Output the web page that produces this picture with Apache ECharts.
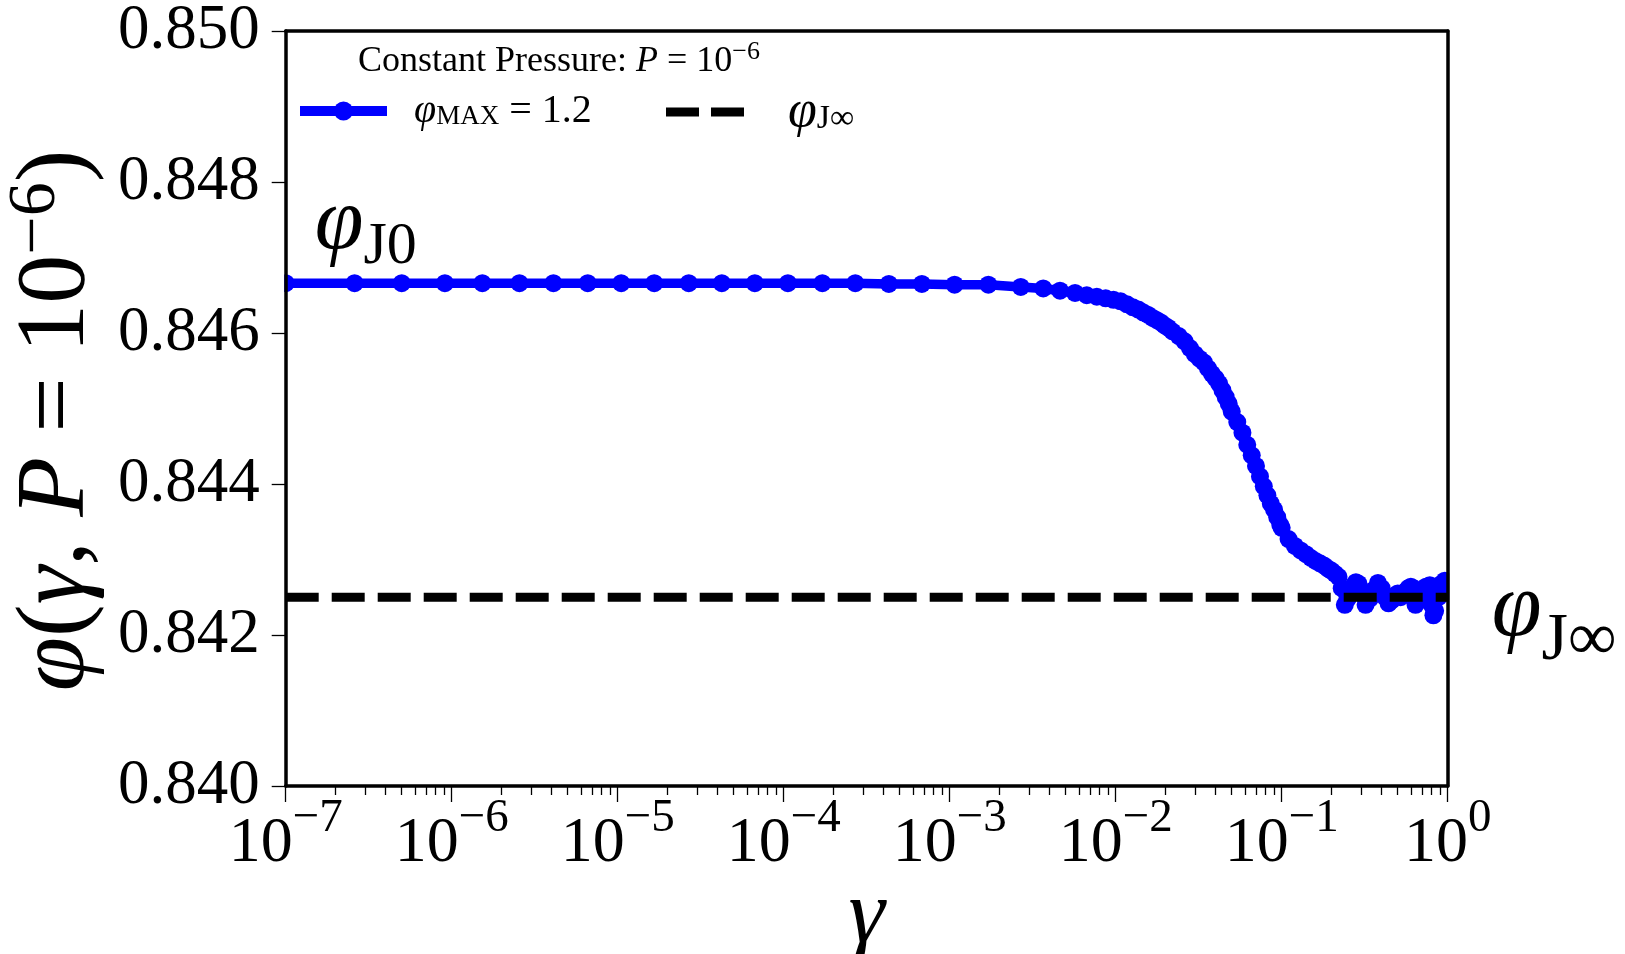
<!DOCTYPE html>
<html>
<head>
<meta charset="utf-8">
<script src="https://cdn.jsdelivr.net/npm/echarts@6/dist/echarts.min.js"></script>
<style>
  html, body { margin: 0; padding: 0; background: #fff; }
  #chart { width: 1625px; height: 954px; }
</style>
</head>
<body>
<div id="chart"></div>
<script>
// Packing fraction versus shear strain rate at constant pressure P = 1e-6
const gamma = [
  1.0e-7, 2.6e-7, 5.0e-7, 9.1e-7, 1.53e-6, 2.56e-6, 4.1e-6, 6.6e-6, 1.05e-5, 1.66e-5,
  2.68e-5, 4.24e-5, 6.7e-5, 1.06e-4, 1.71e-4, 2.70e-4, 4.3e-4, 6.8e-4, 1.07e-3, 1.71e-3,
  2.68e-3, 3.66e-3, 4.62e-3, 5.69e-3, 6.69e-3, 7.7e-3, 8.7e-3, 9.7e-3,
  0.0107, 0.0117, 0.0127, 0.0137, 0.0147, 0.0157, 0.0167, 0.0177, 0.0187, 0.0197, 0.0207,
  0.022, 0.024, 0.026, 0.028, 0.030, 0.032, 0.034, 0.036, 0.038, 0.040, 0.042, 0.044,
  0.046, 0.048, 0.050, 0.054, 0.058, 0.062, 0.066, 0.070, 0.074, 0.078, 0.082, 0.086,
  0.090, 0.094, 0.098, 0.10, 0.11, 0.12, 0.13, 0.14, 0.15, 0.16, 0.17, 0.18, 0.19, 0.20,
  0.21, 0.22, 0.23, 0.24, 0.25, 0.26, 0.27, 0.28, 0.29, 0.30, 0.32, 0.34, 0.36, 0.38,
  0.40, 0.42, 0.44, 0.46, 0.48, 0.50, 0.52, 0.54, 0.56, 0.58, 0.60, 0.62, 0.64, 0.66,
  0.70, 0.74, 0.78, 0.80, 0.82, 0.84, 0.88, 0.92, 0.96, 1.00
];
const phi = [
  0.84666, 0.84666, 0.84666, 0.84666, 0.84666, 0.84666, 0.84666, 0.84666, 0.84666, 0.84666,
  0.84666, 0.84666, 0.84666, 0.84666, 0.84666, 0.84666, 0.84665, 0.84665, 0.84664, 0.84664,
  0.84661, 0.84659, 0.84656, 0.84653, 0.84650, 0.84648, 0.84646, 0.84644,
  0.84642, 0.84638, 0.84634, 0.84631, 0.84627, 0.84624, 0.84620, 0.84617, 0.84614, 0.84610, 0.84607,
  0.84602, 0.84596, 0.84589, 0.84580, 0.84572, 0.84566, 0.84561, 0.84553, 0.84546, 0.84540, 0.84533, 0.84524,
  0.84515, 0.84506, 0.84496, 0.84482, 0.84468, 0.84452, 0.84438, 0.84424, 0.84410, 0.84397, 0.84385, 0.84374,
  0.84366, 0.84356, 0.84346, 0.84342, 0.84327, 0.84318, 0.84312, 0.84307, 0.84302, 0.84298, 0.84295, 0.84292, 0.84288, 0.84285,
  0.84281, 0.84277, 0.84262, 0.84240, 0.84248, 0.84258, 0.84265, 0.84270, 0.84268, 0.84255, 0.84240, 0.84248, 0.84260, 0.84269,
  0.84262, 0.84250, 0.84242, 0.84246, 0.84252, 0.84255, 0.84250, 0.84254, 0.84258, 0.84262, 0.84264, 0.84262, 0.84240, 0.84245,
  0.84255, 0.84264, 0.84266, 0.84240, 0.84226, 0.84232, 0.84250, 0.84268, 0.84272, 0.84258
];
// Jamming packing fraction in the fast-shear limit
const phiJinf = 0.8425;

// Axis ticks
const xMajorTicks = [1e-7, 1e-6, 1e-5, 1e-4, 1e-3, 1e-2, 1e-1, 1];
const xMajorExponents = ['−7', '−6', '−5', '−4', '−3', '−2', '−1', '0'];
const xMinorMultipliers = [2, 3, 4, 5, 6, 7, 8, 9];
const yMin = 0.840, yMax = 0.850, yStep = 0.002;

const xMinorTicks = [];
xMajorTicks.slice(0, -1).forEach(d => xMinorMultipliers.forEach(m => xMinorTicks.push(m * d)));

const SERIF = 'Liberation Serif';
const BLUE = '#0000ff';
const INK = '#000';
const SYMBOL = 18;

// Rich-text token styles: roman, italic, raised (superscript) and lowered (subscript)
function rm(size) {
  return { fontFamily: SERIF, fontSize: size, fontWeight: 'normal', color: INK, lineHeight: size, verticalAlign: 'middle' };
}
function it(size) {
  return Object.assign(rm(size), { fontStyle: 'italic' });
}
function sup(size, raise) {
  return Object.assign(rm(size), { padding: [0, 0, 2 * raise, 0] });
}
function sub(size, drop) {
  return Object.assign(rm(size), { padding: [2 * drop, 0, 0, 0] });
}

const seriesData = gamma.map((g, i) => [g, phi[i]]);
seriesData[0] = {
  value: [gamma[0], phi[0]],
  label: {
    show: true,
    position: 'right',
    distance: 5,
    offset: [15, -58],
    align: 'left',
    verticalAlign: 'middle',
    formatter: '{p|φ}{j|J0}',
    rich: { p: it(88), j: sub(60, 22) }
  }
};

const frameLine = { show: true, lineStyle: { color: INK, width: 3.5 } };

const chart = echarts.init(document.getElementById('chart'), null, { renderer: 'canvas' });
chart.setOption({
  animation: false,
  backgroundColor: '#fff',
  title: {
    left: 358,
    top: 44,
    padding: 0,
    text: '{n|Constant Pressure: }{i|P}{n| = 10}{s|−6}',
    textStyle: {
      fontWeight: 'normal',
      rich: { n: rm(36), i: it(36), s: sup(26, 10) }
    }
  },
  legend: [
    {
      left: 295,
      top: 91,
      padding: 0,
      itemWidth: 87,
      itemHeight: 24,
      lineStyle: { width: 10 },
      data: ['phiMax'],
      formatter: () => '{p|φ}{s|MAX}{n| = 1.2}',
      textStyle: {
        padding: [0, 0, 0, 22],
        rich: { p: it(40), s: sub(27, 6), n: rm(40) }
      }
    },
    {
      left: 666,
      top: 86,
      padding: 0,
      itemWidth: 78,
      itemHeight: 24,
      data: [{ name: 'phiJinf', icon: 'path://M0,0H33V9H0Z M45,0H78V9H45Z' }],
      formatter: () => '{p|φ}{s|J∞}',
      textStyle: {
        padding: [0, 0, 0, 39],
        rich: { p: it(52), s: sub(34, 7) }
      }
    }
  ],
  grid: { left: 285.7, right: 177.3, top: 31, bottom: 168, containLabel: false, outerBoundsMode: 'none' },
  xAxis: [
    {
      type: 'log', logBase: 10, min: 1e-7, max: 1, position: 'bottom', z: 5,
      axisLine: frameLine,
      splitLine: { show: false },
      axisTick: { show: true, customValues: xMajorTicks, length: 16, lineStyle: { color: INK, width: 1.3 } },
      axisLabel: {
        customValues: xMajorTicks,
        margin: 26,
        formatter: v => '{b|10}{s|' + xMajorExponents[Math.round(Math.log10(v)) + 7] + '}',
        rich: { b: rm(64), s: sup(47, 25) }
      },
      name: 'γ',
      nameLocation: 'middle',
      nameGap: 86,
      nameMoveOverlap: false,
      nameTextStyle: { fontFamily: SERIF, fontStyle: 'italic', fontSize: 92, color: INK }
    },
    {
      type: 'log', logBase: 10, min: 1e-7, max: 1, position: 'bottom', z: 5,
      axisLine: { show: false },
      splitLine: { show: false },
      axisLabel: { show: false },
      axisTick: { show: true, customValues: xMinorTicks, length: 9, lineStyle: { color: INK, width: 1.3 } }
    },
    {
      type: 'log', logBase: 10, min: 1e-7, max: 1, position: 'top', z: 5,
      axisLine: frameLine,
      splitLine: { show: false },
      axisLabel: { show: false },
      axisTick: { show: false }
    }
  ],
  yAxis: [
    {
      type: 'value', min: yMin, max: yMax, interval: yStep, position: 'left', z: 5,
      axisLine: frameLine,
      splitLine: { show: false },
      axisTick: { show: true, length: 14, lineStyle: { color: INK, width: 1.3 } },
      axisLabel: {
        margin: 26,
        formatter: v => v.toFixed(3),
        fontFamily: SERIF, fontSize: 63, color: INK
      },
      name: '{i|φ}{n|(}{i|γ}{n|, }{i|P}{n| = 10}{s|−6}{n|)}',
      nameLocation: 'middle',
      nameGap: 179,
      nameMoveOverlap: false,
      nameTextStyle: {
        padding: [0, 24, 0, 0],
        rich: { i: it(98), n: rm(98), s: sup(68, 22) }
      }
    },
    {
      type: 'value', min: yMin, max: yMax, position: 'right', z: 5,
      axisLine: frameLine,
      splitLine: { show: false },
      axisTick: { show: false },
      axisLabel: { show: false }
    }
  ],
  series: [
    {
      name: 'phiMax',
      type: 'line',
      xAxisIndex: 0,
      yAxisIndex: 0,
      data: seriesData,
      symbol: 'circle',
      symbolSize: SYMBOL,
      showSymbol: true,
      showAllSymbol: true,
      color: BLUE,
      itemStyle: { color: BLUE },
      lineStyle: { color: BLUE, width: 9.5, join: 'round' },
      z: 3
    },
    {
      name: 'phiJinf',
      type: 'line',
      xAxisIndex: 0,
      yAxisIndex: 0,
      data: [[xMajorTicks[0], phiJinf], [xMajorTicks[xMajorTicks.length - 1], phiJinf]],
      symbol: 'none',
      color: INK,
      lineStyle: { color: INK, width: 9, type: [33, 13], cap: 'butt' },
      z: 4,
      endLabel: {
        show: true,
        distance: 44,
        offset: [0, 14],
        formatter: '{p|φ}{j|J∞}',
        rich: { p: it(90), j: sub(68, 30) }
      }
    }
  ]
});

// Markers are cut at the plot frame: hide the halves that spill past the left and right edges
const toPx = v => chart.convertToPixel({ xAxisIndex: 0, yAxisIndex: 0 }, v);
const [xL] = toPx([xMajorTicks[0], yMax]);
const [xR] = toPx([xMajorTicks[xMajorTicks.length - 1], yMax]);
const firstY = toPx([gamma[0], phi[0]])[1];
const tailPhi = phi.slice(gamma.findIndex(g => g >= 0.8));
const tailTop = toPx([1, Math.max(...tailPhi)])[1];
const tailBottom = toPx([1, Math.min(...tailPhi)])[1];
const pad = SYMBOL / 2 + 2;
chart.setOption({
  graphic: [
    {
      type: 'rect', z: 4, silent: true,
      shape: { x: xL - pad - 2, y: firstY - pad, width: pad + 0.5, height: 2 * pad },
      style: { fill: '#fff' }
    },
    {
      type: 'rect', z: 4, silent: true,
      shape: { x: xR + 1.5, y: tailTop - pad, width: pad, height: tailBottom - tailTop + 2 * pad },
      style: { fill: '#fff' }
    }
  ]
});
</script>
</body>
</html>
